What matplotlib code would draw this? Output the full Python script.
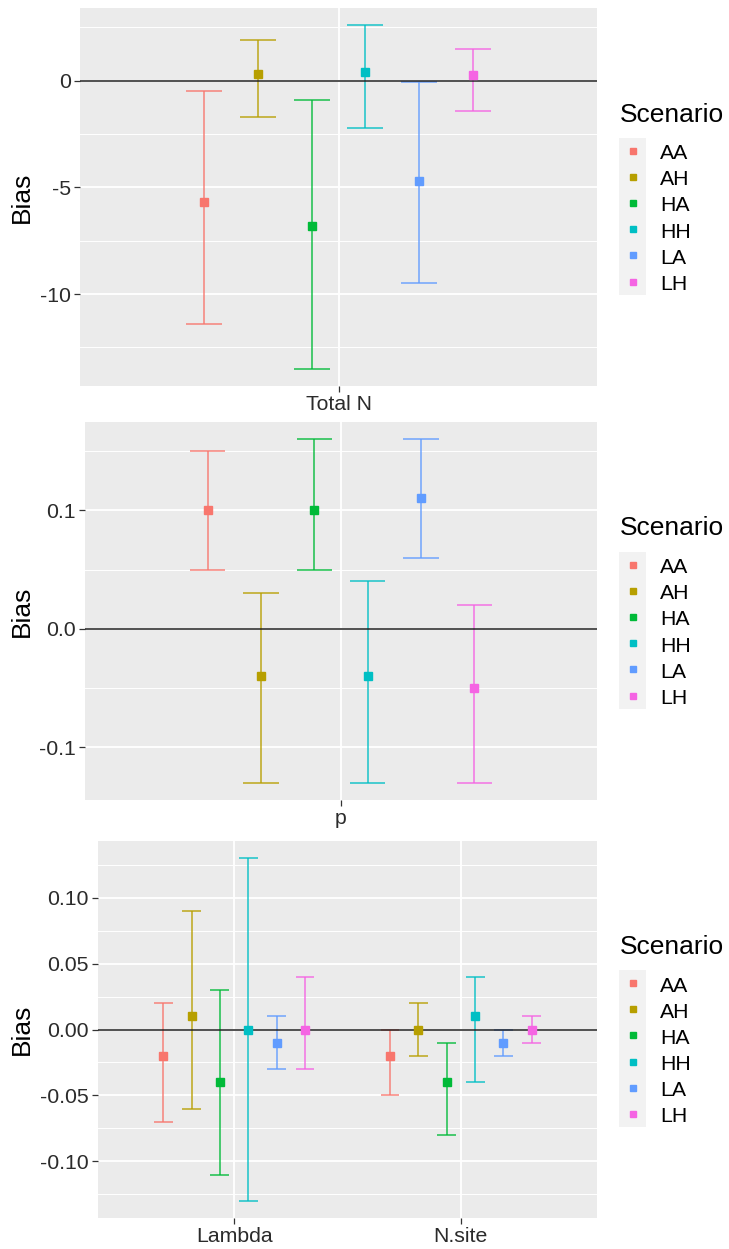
import matplotlib
matplotlib.use("Agg")
import matplotlib.pyplot as plt
import numpy as np
from matplotlib.patches import Rectangle
from matplotlib.lines import Line2D

plt.rcParams['font.family'] = ['Liberation Sans', 'DejaVu Sans']

scenarios = ['AA', 'AH', 'HA', 'HH', 'LA', 'LH']
colors = ['#F8766D', '#B79F00', '#00BA38', '#00BFC4', '#619CFF', '#F564E3']

# Panel 1: Total N
totaln_params = ['Total N']
totaln_mean = [[-5.7, 0.3, -6.8, 0.4, -4.7, 0.25]]
totaln_lower = [[-11.4, -1.7, -13.5, -2.2, -9.5, -1.4]]
totaln_upper = [[-0.5, 1.9, -0.9, 2.6, -0.05, 1.5]]
totaln_ticks = [-10, -5, 0]
totaln_ticklabels = ['-10', '-5', '0']

# Panel 2: p
p_params = ['p']
p_mean = [[0.10, -0.04, 0.10, -0.04, 0.11, -0.05]]
p_lower = [[0.05, -0.13, 0.05, -0.13, 0.06, -0.13]]
p_upper = [[0.15, 0.03, 0.16, 0.04, 0.16, 0.02]]
p_ticks = [-0.1, 0.0, 0.1]
p_ticklabels = ['-0.1', '0.0', '0.1']

# Panel 3: Lambda and N.site
ln_params = ['Lambda', 'N.site']
ln_mean = [[-0.02, 0.01, -0.04, 0.00, -0.01, 0.00],
           [-0.02, 0.00, -0.04, 0.01, -0.01, 0.00]]
ln_lower = [[-0.07, -0.06, -0.11, -0.13, -0.03, -0.03],
            [-0.05, -0.02, -0.08, -0.04, -0.02, -0.01]]
ln_upper = [[0.02, 0.09, 0.03, 0.13, 0.01, 0.04],
            [0.00, 0.02, -0.01, 0.04, 0.00, 0.01]]
ln_ticks = [-0.10, -0.05, 0.0, 0.05, 0.10]
ln_ticklabels = ['-0.10', '-0.05', '0.00', '0.05', '0.10']

W, H = 729, 1249
fig = plt.figure(figsize=(W / 100, H / 100), dpi=100)
fig.patch.set_facecolor('white')

TICK_FS = 15.3
TITLE_FS = 19
TXT = '#2b2b2b'


def px_axes(l, t, r, b):
    return fig.add_axes([l / W, 1 - b / H, (r - l) / W, (b - t) / H])


def draw_panel(box, params, means, lowers, uppers, ticks, ticklabels, minor):
    l, t, r, b = box
    ax = px_axes(l, t, r, b)
    ax.set_facecolor('#EBEBEB')
    for s in ax.spines.values():
        s.set_visible(False)
    n = len(scenarios)
    dodge = 0.75 / n
    capw = 0.5 / n
    allv = np.concatenate([np.ravel(lowers), np.ravel(uppers), [0]])
    lo, hi = allv.min(), allv.max()
    rng = hi - lo
    ax.set_ylim(lo - 0.05 * rng, hi + 0.05 * rng)
    ax.set_xlim(0.4, len(params) + 0.6)
    # grid
    for m in minor:
        ax.axhline(m, color='white', lw=0.7, zorder=0.5)
    for tk in ticks:
        ax.axhline(tk, color='white', lw=1.3, zorder=0.6)
    for i in range(len(params)):
        ax.axvline(i + 1, color='white', lw=1.3, zorder=0.6)
    for i, par in enumerate(params):
        for j, sc in enumerate(scenarios):
            x = i + 1 + (j - (n - 1) / 2) * dodge
            c = colors[j]
            ax.vlines(x, lowers[i][j], uppers[i][j], color=c, lw=1.4, alpha=0.7, zorder=2)
            ax.hlines([lowers[i][j], uppers[i][j]], x - capw / 2, x + capw / 2,
                      color=c, lw=1.4, alpha=0.7, zorder=2)
    ax.axhline(0, color='#222222', lw=1.3, alpha=0.85, zorder=3)
    for i, par in enumerate(params):
        for j, sc in enumerate(scenarios):
            x = i + 1 + (j - (n - 1) / 2) * dodge
            ax.plot([x], [means[i][j]], marker='s', ms=6.0, color=colors[j],
                    ls='none', zorder=4)
    ax.set_yticks(ticks)
    ax.set_yticklabels(ticklabels)
    ax.set_xticks(np.arange(1, len(params) + 1))
    ax.set_xticklabels(params)
    ax.tick_params(axis='both', length=4, width=0.9, color='#333333',
                   labelsize=TICK_FS, labelcolor=TXT, pad=2.5)
    ax.set_ylabel('Bias', fontsize=TITLE_FS, color='black')
    ax.yaxis.set_label_coords((34 - l) / (r - l), 0.5)
    # legend
    cy = (t + b) / 2
    rows = [cy - 46.5 + 26.2 * k for k in range(n)]
    fig.text(620 / W, 1 - (rows[0] - 29) / H, 'Scenario', fontsize=TITLE_FS,
             ha='left', va='baseline', color='black')
    fig.add_artist(Rectangle((619 / W, 1 - (rows[-1] + 13) / H), 27 / W,
                             (rows[-1] - rows[0] + 26) / H,
                             transform=fig.transFigure, facecolor='#F2F2F2',
                             edgecolor='none'))
    for k, sc in enumerate(scenarios):
        fig.add_artist(Line2D([632.5 / W], [1 - rows[k] / H], marker='s', ms=5,
                              color=colors[k], ls='none', transform=fig.transFigure))
        fig.text(660 / W, 1 - (rows[k] + 8.5) / H, sc, fontsize=TICK_FS, ha='left',
                 va='baseline', color='black')
    return ax


draw_panel((80, 8, 597, 386), totaln_params, totaln_mean, totaln_lower, totaln_upper,
           totaln_ticks, totaln_ticklabels, [2.5, -2.5, -7.5, -12.5])
draw_panel((85, 422, 597, 800), p_params, p_mean, p_lower, p_upper,
           p_ticks, p_ticklabels, [0.15, 0.05, -0.05, -0.15])
draw_panel((98, 841, 597, 1218), ln_params, ln_mean, ln_lower, ln_upper,
           ln_ticks, ln_ticklabels, [0.125, 0.075, 0.025, -0.025, -0.075, -0.125])

fig.savefig('out.png', dpi=100, facecolor='white')
